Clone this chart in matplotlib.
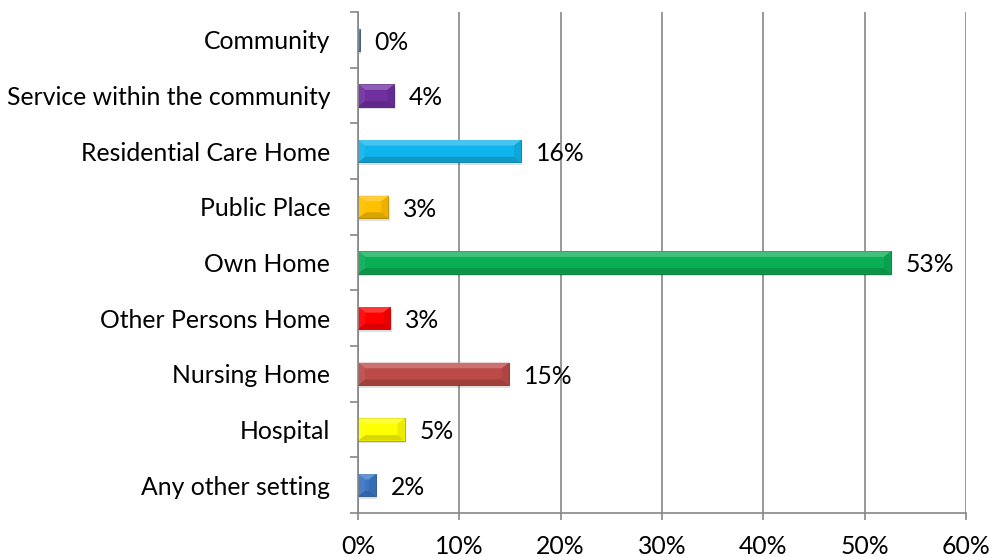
import numpy as np
import matplotlib.pyplot as plt
from matplotlib.patches import Polygon
from matplotlib.colors import to_rgb

plt.rcParams['font.family'] = ['Lato', 'DejaVu Sans']

# categories listed bottom to top
categories = ['Any other setting', 'Hospital', 'Nursing Home', 'Other Persons Home',
              'Own Home', 'Public Place', 'Residential Care Home',
              'Service within the community', 'Community']
values = [1.8, 4.6, 14.9, 3.2, 52.6, 3.0, 16.1, 3.6, 0.2]
colors = ['#3A76C4', '#FFFF00', '#BC4B48', '#FF0000', '#0AAE55',
          '#FFC000', '#10B4EC', '#7030A0', '#4F81BD']
xticks = [0, 10, 20, 30, 40, 50, 60]

grey = '#868686'
fs = 17.8


def shade(c, f):
    r = np.array(to_rgb(c))
    if f >= 0:
        return tuple(r + (1 - r) * f)
    return tuple(r * (1 + f))


def bevel(ax, y, w, h, c):
    # Excel-like bevelled bar: light top band, dark bottom band, shaded end caps
    dx = min(0.7, w / 2)
    dy = h * 0.25
    t, b = y + h / 2, y - h / 2
    faces = [
        ([(0, t), (w, t), (w - dx, t - dy), (dx, t - dy)], shade(c, 0.22)),
        ([(0, b), (w, b), (w - dx, b + dy), (dx, b + dy)], shade(c, -0.15)),
        ([(0, b), (0, t), (dx, t - dy), (dx, b + dy)], shade(c, 0.06)),
        ([(w, b), (w, t), (w - dx, t - dy), (w - dx, b + dy)], shade(c, -0.08)),
    ]
    for pts, fc in faces:
        ax.add_patch(Polygon(pts, closed=True, facecolor=fc, edgecolor='none', zorder=4))


fig = plt.figure(figsize=(9.9, 5.57), dpi=100)
ax = fig.add_axes([0.3616, 0.079, 0.6142, 0.8995])

y = np.arange(len(categories))
h = 0.4

# soft shadow under each bar
ax.barh(y - 0.05, values, height=h, left=0.12, color='black', alpha=0.12, zorder=2)
ax.barh(y, values, height=h, color=colors, edgecolor=[shade(c, -0.35) for c in colors],
        linewidth=0.6, zorder=3)
for yi, v, c in zip(y, values, colors):
    bevel(ax, yi, v, h, c)
    ax.text(v + 1.45, yi - 0.04, f'{v:.0f}%', va='center', ha='left', fontsize=fs,
            color='black')

ax.set_xlim(0, 60)
ax.set_ylim(-0.5, len(categories) - 0.5)
ax.set_xticks(xticks)
ax.set_xticklabels([f'{t}%' for t in xticks], fontsize=fs)
ax.set_yticks(y)
ax.set_yticklabels(categories, fontsize=fs)
ax.set_yticks(np.arange(-0.5, len(categories), 1), minor=True)

ax.tick_params(axis='y', which='major', length=0, pad=20)
ax.tick_params(axis='y', which='minor', length=6, color=grey, width=1.2)
ax.tick_params(axis='x', length=5, color=grey, width=1.2, pad=11)

ax.grid(axis='x', color=grey, lw=1.2, zorder=1)
ax.set_axisbelow(True)
for s in ['top', 'right']:
    ax.spines[s].set_visible(False)
for s in ['left', 'bottom']:
    ax.spines[s].set_color(grey)
    ax.spines[s].set_linewidth(1.2)
    ax.spines[s].set_zorder(6)

fig.savefig('out.png', dpi=100)
